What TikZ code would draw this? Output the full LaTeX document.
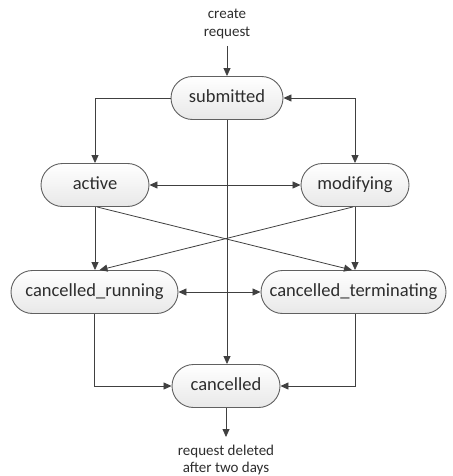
\documentclass[tikz,border=0pt]{standalone}
\usepackage{fontspec}
\setmainfont{Carlito}
\usepackage{tikz}
\usetikzlibrary{positioning,arrows.meta,shapes.misc}
\definecolor{lineGray}{RGB}{64,64,64}
\definecolor{boxGray}{RGB}{96,96,96}
\definecolor{textGray}{RGB}{45,45,45}

\begin{document}
\begin{tikzpicture}[x=1pt, y=-1pt,
  statebox/.style={rounded rectangle, draw=boxGray, line width=0.9pt, top color=white, bottom color=black!9,
    minimum height=43pt, inner xsep=4pt, text=textGray, font=\fontsize{18.5}{21}\selectfont,
    text height=12.5pt, text depth=3.5pt},
  labeltext/.style={font=\fontsize{15}{17.5}\selectfont, text=textGray, align=center},
  arrowstyle/.style={-{Triangle[length=8pt,width=7pt]}, draw=lineGray, line width=0.8pt},
  bothstyle/.style={{Triangle[length=8pt,width=7pt]}-{Triangle[length=8pt,width=7pt]}, draw=lineGray, line width=0.8pt},
]
\useasboundingbox (0,0) rectangle (452,476);

% ===================================================================
% States
% ===================================================================
\node[statebox, minimum width=120pt] (submitted) at (227, 98) {submitted};
\node[statebox, minimum width=116pt] (active) at (95, 185) {active};
\node[statebox, minimum width=116pt] (modifying) at (355, 185) {modifying};
\node[statebox, minimum width=175pt] (cancRun) at (94.5, 292) {cancelled\_running};
\node[statebox, minimum width=193pt] (cancTerm) at (353.5, 292) {cancelled\_terminating};
\node[statebox, minimum width=116pt] (cancelled) at (226, 386) {cancelled};

% Entry and exit labels
\node[labeltext] (create) at (227, 24) {create\\request};
\node[labeltext] (deleted) at (226, 460) {request deleted\\after two days};
\coordinate (createEnd) at (227, 46);
\coordinate (deletedEnd) at (226, 437);

% ===================================================================
% Transitions
% ===================================================================
\draw[arrowstyle] (createEnd) -- (submitted.north);
\draw[arrowstyle] (submitted.west) -| (active.north);
\draw[bothstyle] (submitted.east) -| (modifying.north);
\draw[arrowstyle] (submitted.south) -- (submitted.south |- cancelled.north);

\draw[bothstyle] (active.east) -- (modifying.west);
\draw[arrowstyle] (active.south) -- (cancRun.north -| active.south);
\draw[arrowstyle] ([xshift=2pt]active.south) -- ([xshift=-1.5pt]cancTerm.north);
\draw[arrowstyle] ([xshift=-2pt]modifying.south) -- ([xshift=5pt]cancRun.north);
\draw[arrowstyle] (modifying.south) -- (cancTerm.north -| modifying.south);

\draw[bothstyle] (cancRun.east) -- (cancTerm.west);
\draw[arrowstyle] (cancRun.south) |- (cancelled.west);
\draw[arrowstyle] (cancTerm.south -| modifying.south) |- (cancelled.east);

\draw[arrowstyle] (cancelled.south) -- (deletedEnd);

\end{tikzpicture}
\end{document}
